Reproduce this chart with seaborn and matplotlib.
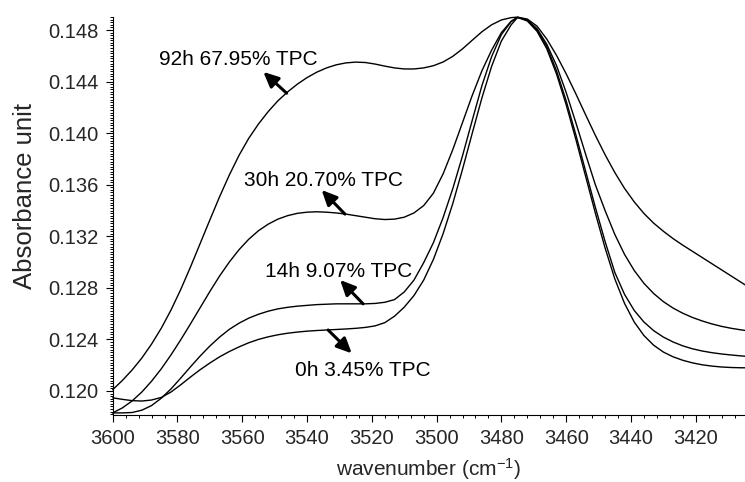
import matplotlib
matplotlib.use("Agg")
import matplotlib.pyplot as plt
import numpy as np
import pandas as pd
import seaborn as sns
from matplotlib.ticker import FixedLocator, MultipleLocator

# ---------------- data ----------------
wn_92h = [3600, 3597, 3594, 3591, 3588, 3585, 3582, 3579, 3576, 3573, 3570, 3567,
          3564, 3561, 3558, 3555, 3552, 3549, 3546, 3543, 3540, 3537, 3534, 3531,
          3528, 3525, 3522, 3519, 3516, 3513, 3510, 3507, 3504, 3501, 3498, 3495,
          3492, 3489, 3486, 3483, 3480, 3477, 3475, 3472, 3469, 3466, 3463, 3460,
          3457, 3454, 3451, 3448, 3445, 3442, 3439, 3436, 3433, 3430, 3427, 3424,
          3421, 3418, 3415, 3412, 3409, 3406, 3404]
abs_92h = [0.12010, 0.12082, 0.12163, 0.12256, 0.12364, 0.12487, 0.12628, 0.12787,
           0.12961, 0.13144, 0.13327, 0.13507, 0.13675, 0.13828, 0.13960, 0.14071,
           0.14167, 0.14251, 0.14320, 0.14380, 0.14431, 0.14473, 0.14506, 0.14530,
           0.14545, 0.14551, 0.14548, 0.14536, 0.14520, 0.14506, 0.14498, 0.14498,
           0.14506, 0.14523, 0.14552, 0.14596, 0.14654, 0.14721, 0.14787, 0.14841,
           0.14878, 0.14896, 0.14900, 0.14885, 0.14830, 0.14730, 0.14604, 0.14460,
           0.14304, 0.14142, 0.13983, 0.13833, 0.13695, 0.13572, 0.13467, 0.13377,
           0.13302, 0.13239, 0.13182, 0.13131, 0.13083, 0.13035, 0.12987, 0.12939,
           0.12891, 0.12843, 0.12811]

wn_30h = [3600, 3597, 3594, 3591, 3588, 3585, 3582, 3579, 3576, 3573, 3570, 3567,
          3564, 3561, 3558, 3555, 3552, 3549, 3546, 3543, 3540, 3537, 3534, 3531,
          3528, 3525, 3522, 3519, 3516, 3513, 3510, 3507, 3504, 3501, 3498, 3495,
          3492, 3489, 3486, 3483, 3480, 3477, 3475, 3472, 3469, 3466, 3463, 3460,
          3457, 3454, 3451, 3448, 3445, 3442, 3439, 3436, 3433, 3430, 3427, 3424,
          3421, 3418, 3415, 3412, 3409, 3406, 3404]
abs_30h = [0.11830, 0.11869, 0.11923, 0.11992, 0.12076, 0.12172, 0.12280, 0.12397,
           0.12520, 0.12646, 0.12772, 0.12892, 0.13000, 0.13096, 0.13177, 0.13243,
           0.13294, 0.13333, 0.13360, 0.13378, 0.13387, 0.13390, 0.13387, 0.13381,
           0.13372, 0.13360, 0.13348, 0.13336, 0.13330, 0.13333, 0.13348, 0.13381,
           0.13438, 0.13534, 0.13684, 0.13873, 0.14083, 0.14293, 0.14485, 0.14645,
           0.14780, 0.14868, 0.14898, 0.14878, 0.14810, 0.14690, 0.14525, 0.14315,
           0.14080, 0.13836, 0.13600, 0.13400, 0.13215, 0.13060, 0.12935, 0.12835,
           0.12756, 0.12693, 0.12643, 0.12603, 0.12570, 0.12543, 0.12520, 0.12501,
           0.12486, 0.12474, 0.12467]

wn_14h = [3600, 3597, 3594, 3591, 3588, 3585, 3582, 3579, 3576, 3573, 3570, 3567,
          3564, 3561, 3558, 3555, 3552, 3549, 3546, 3543, 3540, 3537, 3534, 3531,
          3528, 3525, 3522, 3519, 3516, 3513, 3510, 3507, 3504, 3501, 3498, 3495,
          3492, 3489, 3486, 3483, 3480, 3477, 3475, 3472, 3469, 3466, 3463, 3460,
          3457, 3454, 3451, 3448, 3445, 3442, 3439, 3436, 3433, 3430, 3427, 3424,
          3421, 3418, 3415, 3412, 3409, 3406, 3404]
abs_14h = [0.11830, 0.11830, 0.11833, 0.11851, 0.11887, 0.11944, 0.12016, 0.12100,
           0.12187, 0.12271, 0.12349, 0.12418, 0.12478, 0.12526, 0.12565, 0.12595,
           0.12619, 0.12637, 0.12649, 0.12658, 0.12664, 0.12670, 0.12673, 0.12676,
           0.12676, 0.12676, 0.12676, 0.12679, 0.12688, 0.12709, 0.12768, 0.12860,
           0.12995, 0.13150, 0.13345, 0.13570, 0.13825, 0.14100, 0.14370, 0.14595,
           0.14765, 0.14865, 0.14898, 0.14875, 0.14800, 0.14672, 0.14485, 0.14250,
           0.13985, 0.13705, 0.13425, 0.13160, 0.12920, 0.12750, 0.12625, 0.12535,
           0.12468, 0.12418, 0.12380, 0.12350, 0.12327, 0.12310, 0.12297, 0.12287,
           0.12279, 0.12272, 0.12268]

wn_0h = [3600, 3597, 3594, 3591, 3588, 3585, 3582, 3579, 3576, 3573, 3570, 3567,
         3564, 3561, 3558, 3555, 3552, 3549, 3546, 3543, 3540, 3537, 3534, 3531,
         3528, 3525, 3522, 3519, 3516, 3513, 3510, 3507, 3504, 3501, 3498, 3495,
         3492, 3489, 3486, 3483, 3480, 3477, 3475, 3472, 3469, 3466, 3463, 3460,
         3457, 3454, 3451, 3448, 3445, 3442, 3439, 3436, 3433, 3430, 3427, 3424,
         3421, 3418, 3415, 3412, 3409, 3406, 3404]
abs_0h = [0.11947, 0.11935, 0.11925, 0.11922, 0.11930, 0.11950, 0.11992, 0.12048,
          0.12108, 0.12165, 0.12217, 0.12265, 0.12306, 0.12342, 0.12374, 0.12400,
          0.12420, 0.12436, 0.12448, 0.12457, 0.12464, 0.12469, 0.12473, 0.12477,
          0.12481, 0.12486, 0.12493, 0.12505, 0.12530, 0.12580, 0.12650, 0.12740,
          0.12860, 0.13020, 0.13220, 0.13455, 0.13720, 0.14000, 0.14275, 0.14520,
          0.14715, 0.14840, 0.14898, 0.14870, 0.14790, 0.14655, 0.14460, 0.14220,
          0.13950, 0.13665, 0.13380, 0.13110, 0.12870, 0.12680, 0.12535, 0.12430,
          0.12355, 0.12302, 0.12265, 0.12238, 0.12218, 0.12203, 0.12193, 0.12186,
          0.12182, 0.12180, 0.12180]

series_names = ["92h", "30h", "14h", "0h"]
series_labels = ["92h 67.95% TPC", "30h 20.70% TPC", "14h 9.07% TPC", "0h 3.45% TPC"]

x_ticks = [3600, 3580, 3560, 3540, 3520, 3500, 3480, 3460, 3440, 3420]
y_ticks = [0.120, 0.124, 0.128, 0.132, 0.136, 0.140, 0.144, 0.148]
y_tick_labels = ["0.120", "0.124", "0.128", "0.132", "0.136", "0.140", "0.144", "0.148"]

# ---------------- style ----------------
sns.set_style("ticks")
plt.rcParams["font.family"] = ["Liberation Sans", "DejaVu Sans"]
plt.rcParams["mathtext.fontset"] = "custom"
plt.rcParams["mathtext.rm"] = "Liberation Sans"
plt.rcParams["mathtext.default"] = "regular"

frames = []
for name, wn, ab in zip(series_names, [wn_92h, wn_30h, wn_14h, wn_0h],
                        [abs_92h, abs_30h, abs_14h, abs_0h]):
    frames.append(pd.DataFrame({"wavenumber": wn, "absorbance": ab, "sample": name}))
df = pd.concat(frames, ignore_index=True)

fig = plt.figure(figsize=(7.45, 4.82), dpi=100)
L, R, T, B = 112.7, 745.0, 17.0, 414.7
ax = fig.add_axes([L / 745, (482 - B) / 482, (R - L) / 745, (B - T) / 482])

sns.lineplot(data=df, x="wavenumber", y="absorbance", hue="sample",
             palette=["black"] * 4, estimator=None, sort=False, legend=False,
             linewidth=1.0, ax=ax)
for ln in ax.lines:
    ln.set_clip_on(False)
    ln.set_solid_joinstyle("round")

ax.set_xlim(3600, 3404.8)
ax.set_ylim(0.11816, 0.14901)

ax.xaxis.set_major_locator(FixedLocator(x_ticks))
ax.xaxis.set_minor_locator(MultipleLocator(4))
ax.yaxis.set_major_locator(FixedLocator(y_ticks))
ax.yaxis.set_minor_locator(MultipleLocator(0.0002))
ax.set_yticklabels(y_tick_labels)

ax.tick_params(which="major", direction="out", length=5.3, width=0.8,
               labelsize=14.5, color="black", pad=5)
ax.tick_params(which="minor", direction="out", length=2.4, width=0.7, color="black")
sns.despine(ax=ax)
for sp in ["left", "bottom"]:
    ax.spines[sp].set_linewidth(0.8)
    ax.spines[sp].set_color("black")

ax.set_xlabel("wavenumber (cm$^{-1}$)", fontsize=15)
ax.set_ylabel("Absorbance unit", fontsize=18.5)
ax.yaxis.set_label_coords(-0.119, 0.55)
ax.xaxis.set_label_coords(0.5, -0.105)

# ---------------- annotations ----------------
text_pos = [(3585.6, 0.14528), (3559.4, 0.13590), (3553.0, 0.12882), (3543.7, 0.12116)]
arrow_pos = [((3546.3, 0.14310), (3553.5, 0.14475)),
             ((3528.3, 0.13372), (3535.5, 0.13559)),
             ((3522.7, 0.12676), (3529.8, 0.12861)),
             ((3533.5, 0.12473), (3526.2, 0.12292))]
for lab, (tx, ty), (tail, head) in zip(series_labels, text_pos, arrow_pos):
    ax.text(tx, ty, lab, fontsize=15, ha="left", va="baseline", color="black")
    ax.annotate("", xy=head, xytext=tail,
                arrowprops=dict(arrowstyle="-|>,head_length=0.6,head_width=0.28",
                                lw=2.2, color="black", shrinkA=0, shrinkB=0,
                                mutation_scale=15))

fig.savefig("out.png", dpi=100)
